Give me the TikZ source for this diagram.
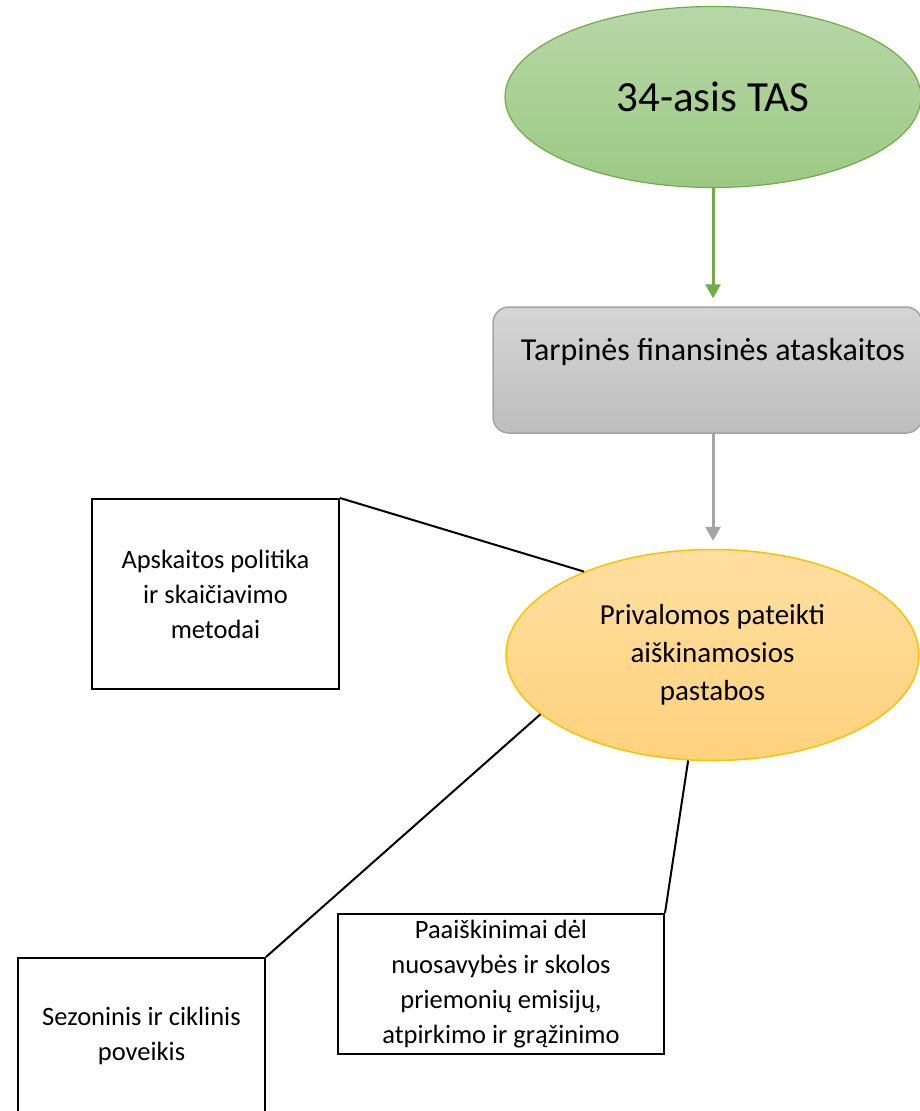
\documentclass[tikz,border=0pt]{standalone}
\usepackage{fontspec}
\setmainfont{Carlito}
\usetikzlibrary{arrows.meta,shapes.geometric}
\definecolor{gtop}{RGB}{183,215,168}
\definecolor{gbot}{RGB}{157,201,131}
\definecolor{gline}{RGB}{112,173,71}
\definecolor{btop}{RGB}{213,213,213}
\definecolor{bbot}{RGB}{190,190,190}
\definecolor{bline}{RGB}{165,165,165}
\definecolor{otop}{RGB}{255,223,160}
\definecolor{obot}{RGB}{255,210,125}
\definecolor{oline}{RGB}{255,192,0}
\tikzset{
  x=1pt, y=-1pt,
  notebox/.style={draw=black, line width=2pt, fill=white, align=center, inner sep=0pt},
  boxtext/.style={font=\fontsize{26.5}{35}\selectfont},
  link/.style={draw=black, line width=2pt},
  flowarrow/.style={line width=3pt, -{Triangle[length=14pt,width=15pt]}, shorten >=8pt},
}
\begin{document}
\begin{tikzpicture}
\useasboundingbox (0,0) rectangle (920,1111);
\clip (0,0) rectangle (920,1111);
\fill[white] (0,0) rectangle (920,1111);
% top ellipse
\node[ellipse, draw=gline, line width=1.2pt, top color=gtop, bottom color=gbot,
      minimum width=416pt, minimum height=181pt, inner sep=0pt,
      font=\fontsize{43}{50}\selectfont] (tas) at (713,97) {34-asis TAS};
% gray box
\node[draw=bline, line width=1.5pt, rounded corners=16pt, top color=btop, bottom color=bbot,
      minimum width=429pt, minimum height=126pt, inner sep=0pt] (tfa) at (707.5,370) {};
\node[font=\fontsize{32}{38}\selectfont, inner sep=0pt] (tfatext) at (713,352) {Tarpinės finansinės ataskaitos};
% orange ellipse
\node[ellipse, draw=oline, line width=1.5pt, top color=otop, bottom color=obot,
      minimum width=413pt, minimum height=211pt, inner sep=0pt, align=center,
      font=\fontsize{29}{38}\selectfont] (pap) at (712.5,655)
      {Privalomos pateikti\\aiškinamosios\\pastabos};
% note boxes
\node[notebox, boxtext, minimum width=247pt, minimum height=190pt] (aps) at (215.5,594)
      {Apskaitos politika\\ir skaičiavimo\\metodai};
\node[notebox, boxtext, minimum width=247pt, minimum height=156pt] (sez) at (141.5,1036)
      {Sezoninis ir ciklinis\\poveikis};
\node[notebox, boxtext, minimum width=326pt, minimum height=140pt] (paa) at (501,984)
      {Paaiškinimai dėl\\nuosavybės ir skolos\\priemonių emisijų,\\atpirkimo ir grąžinimo};
% arrows
\draw[flowarrow, gline] (tas.south) -- (tas.south |- tfa.north);
\draw[flowarrow, bline] (tfa.south -| tas.south) -- (tas.south |- pap.north);
% links
\draw[link] (aps.north east) -- (pap.147);
\draw[link] (sez.north east) -- (pap.199);
\draw[link] (paa.north east) -- (pap.257);
\end{tikzpicture}
\end{document}
